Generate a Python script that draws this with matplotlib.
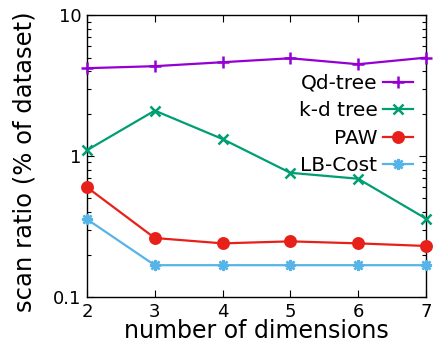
import matplotlib
matplotlib.use("Agg")
import matplotlib.pyplot as plt
from matplotlib.ticker import LogLocator, NullFormatter, FixedLocator

dims = [2, 3, 4, 5, 6, 7]
qd_tree = [4.2, 4.34, 4.63, 4.94, 4.48, 4.99]
kd_tree = [1.10, 2.10, 1.32, 0.76, 0.69, 0.36]
paw = [0.60, 0.262, 0.24, 0.248, 0.24, 0.23]
lb_cost = [0.356, 0.168, 0.168, 0.168, 0.168, 0.168]

series = [
    ("Qd-tree", qd_tree, "#9400D3", "+", 8),
    ("k-d tree", kd_tree, "#009E73", "x", 7),
    ("PAW", paw, "#E8201A", "o", 7.5),
    ("LB-Cost", lb_cost, "#56B4E9", (8, 2, 0), 8),
]

fig = plt.figure(figsize=(4.35, 3.51), dpi=100)
ax = fig.add_axes([0.2, 0.154, 0.779, 0.803])

for name, vals, col, mk, ms in series:
    ax.plot(dims, vals, color=col, marker=mk, markersize=ms, linewidth=1.6,
            markeredgewidth=1.8, label=name, clip_on=False, zorder=3)

ax.set_yscale("log")
ax.set_ylim(0.1, 10)
ax.set_xlim(2, 7)
ax.xaxis.set_major_locator(FixedLocator(dims))
ax.yaxis.set_major_locator(FixedLocator([0.1, 1, 10]))
ax.set_yticklabels(["0.1", "1", "10"])
ax.yaxis.set_minor_locator(LogLocator(base=10, subs=range(2, 10)))
ax.yaxis.set_minor_formatter(NullFormatter())

ax.tick_params(which="both", direction="in", top=True, right=True,
               labelsize=13, width=0.8, pad=4)
ax.tick_params(which="major", length=5)
ax.tick_params(which="minor", length=3)
for s in ax.spines.values():
    s.set_linewidth(1.0)

ax.set_xlabel("number of dimensions", fontsize=17, labelpad=-1)
ax.set_ylabel("scan ratio (% of dataset)", fontsize=17.5, labelpad=2)
ax.yaxis.set_label_coords(-0.15, 0.48)

leg = ax.legend(loc="upper right", bbox_to_anchor=(0.985, 0.82), markerfirst=False,
                frameon=False, fontsize=14.5, handlelength=1.5, handletextpad=0.25,
                labelspacing=0.42, borderaxespad=0)

fig.savefig("out.png", dpi=100)
